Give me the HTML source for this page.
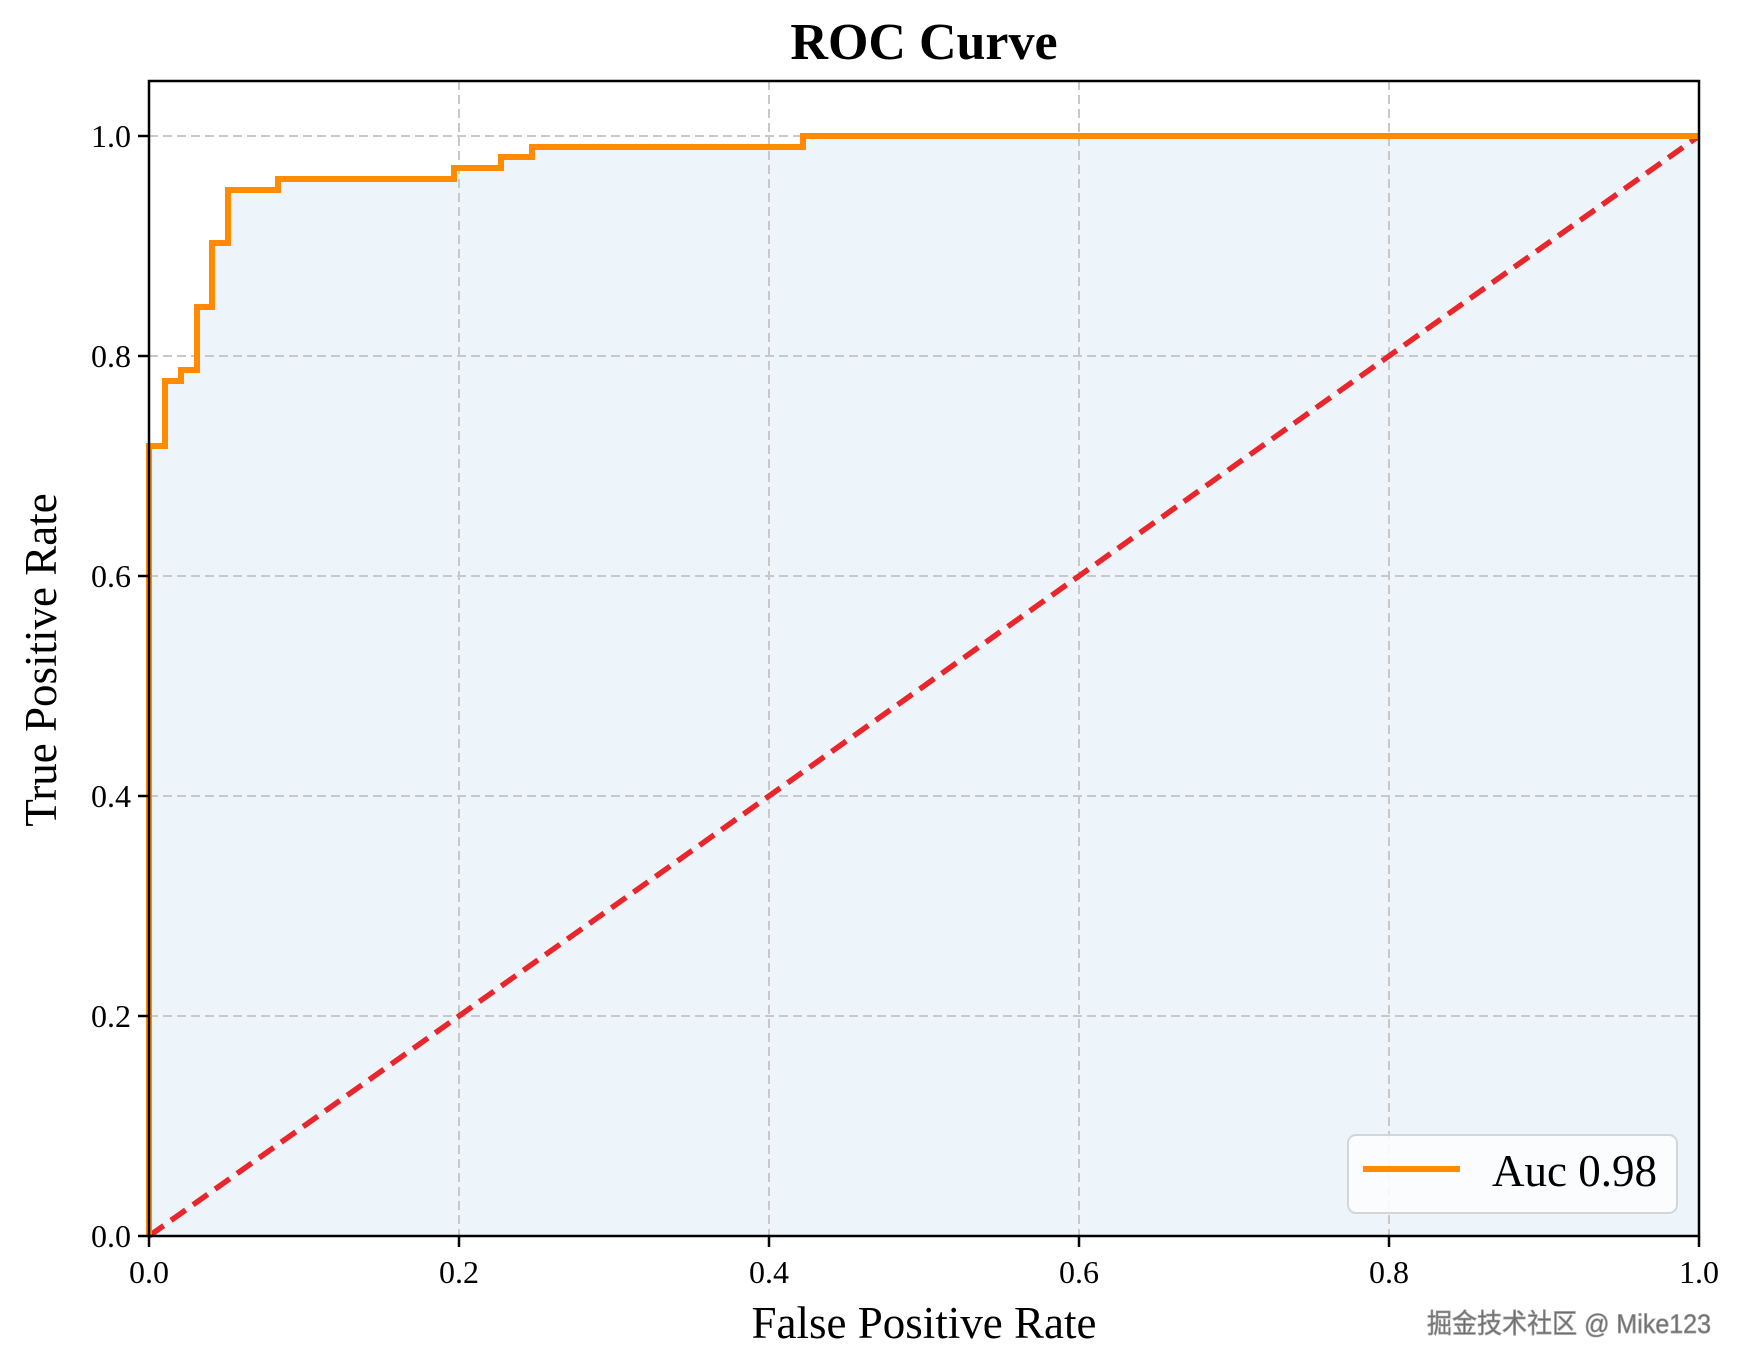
<!DOCTYPE html>
<html><head><meta charset="utf-8"><style>
html,body{margin:0;padding:0;background:#fff;}
svg{display:block;}
text{font-family:"Liberation Serif",serif;fill:#000;}
</style></head><body>
<svg width="1745" height="1372" viewBox="0 0 1745 1372" xmlns="http://www.w3.org/2000/svg">
<rect width="1745" height="1372" fill="#fff"/>
<path fill="#edf5fa" d="M149,1236 L149,446 L165,446 L165,381 L181,381 L181,370 L197,370 L197,307 L212,307 L212,243 L228,243 L228,190 L278,190 L278,179 L454,179 L454,168 L501,168 L501,157 L532,157 L532,147 L803,147 L803,136 L1699,136 L1699,1236 Z"/>
<g stroke="#c8c8c8" stroke-width="2" stroke-dasharray="9,5" fill="none">
<line x1="459" y1="81" x2="459" y2="1236"/>
<line x1="769" y1="81" x2="769" y2="1236"/>
<line x1="1079" y1="81" x2="1079" y2="1236"/>
<line x1="1389" y1="81" x2="1389" y2="1236"/>
<line x1="149" y1="136" x2="1699" y2="136"/>
<line x1="149" y1="356" x2="1699" y2="356"/>
<line x1="149" y1="576" x2="1699" y2="576"/>
<line x1="149" y1="796" x2="1699" y2="796"/>
<line x1="149" y1="1016" x2="1699" y2="1016"/>
</g>
<line x1="149" y1="1236" x2="1699" y2="136" stroke="#e8262b" stroke-width="5.5" stroke-dasharray="18,9"/>
<path fill="none" stroke="#ff8c00" stroke-width="6" stroke-linejoin="miter" d="M149,1236 L149,446 L165,446 L165,381 L181,381 L181,370 L197,370 L197,307 L212,307 L212,243 L228,243 L228,190 L278,190 L278,179 L454,179 L454,168 L501,168 L501,157 L532,157 L532,147 L803,147 L803,136 L1699,136"/>
<rect x="149" y="81" width="1550" height="1155" fill="none" stroke="#000" stroke-width="2.5"/>
<g stroke="#000" stroke-width="2.5">
<line x1="149" y1="1236" x2="149" y2="1247"/>
<line x1="459" y1="1236" x2="459" y2="1247"/>
<line x1="769" y1="1236" x2="769" y2="1247"/>
<line x1="1079" y1="1236" x2="1079" y2="1247"/>
<line x1="1389" y1="1236" x2="1389" y2="1247"/>
<line x1="1699" y1="1236" x2="1699" y2="1247"/>
<line x1="138" y1="136" x2="149" y2="136"/>
<line x1="138" y1="356" x2="149" y2="356"/>
<line x1="138" y1="576" x2="149" y2="576"/>
<line x1="138" y1="796" x2="149" y2="796"/>
<line x1="138" y1="1016" x2="149" y2="1016"/>
<line x1="138" y1="1236" x2="149" y2="1236"/>
</g>
<g font-size="32" text-anchor="middle">
<text x="149" y="1283">0.0</text>
<text x="459" y="1283">0.2</text>
<text x="769" y="1283">0.4</text>
<text x="1079" y="1283">0.6</text>
<text x="1389" y="1283">0.8</text>
<text x="1699" y="1283">1.0</text>
</g>
<g font-size="32" text-anchor="end">
<text x="131" y="147">1.0</text>
<text x="131" y="367">0.8</text>
<text x="131" y="587">0.6</text>
<text x="131" y="807">0.4</text>
<text x="131" y="1027">0.2</text>
<text x="131" y="1247">0.0</text>
</g>
<text x="924" y="59" font-size="52" font-weight="bold" text-anchor="middle">ROC Curve</text>
<text x="924" y="1338" font-size="45" text-anchor="middle">False Positive Rate</text>
<text transform="translate(56,660) rotate(-90)" font-size="45" text-anchor="middle">True Positive Rate</text>
<rect x="1348" y="1135" width="329" height="78" rx="8" fill="#fcfdfe" fill-opacity="0.9" stroke="#d3d6d8" stroke-width="2"/>
<line x1="1363" y1="1169" x2="1460" y2="1169" stroke="#ff8c00" stroke-width="6"/>
<text x="1492" y="1186" font-size="45">Auc 0.98</text>
<text x="1427" y="1333" font-size="27" textLength="284" lengthAdjust="spacingAndGlyphs" style="font-family:'Liberation Sans','Noto Sans CJK SC',sans-serif;fill:#6e6e6e;stroke:#9a9a9a;stroke-width:0.8">掘金技术社区 @ Mike123</text>
</svg>
</body></html>
